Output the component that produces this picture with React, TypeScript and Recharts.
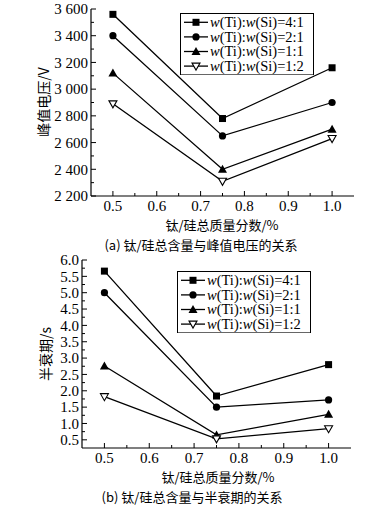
import React from 'react';
import { LineChart, Line, XAxis, YAxis, Legend } from 'recharts';

// x: total Ti/Si mass fraction (%)
const massFraction = [0.5, 0.75, 1.0];
const ratioNames = ['4:1', '2:1', '1:1', '1:2'];

// (a) peak voltage, V
const peakVoltage41 = [3560, 2780, 3160];
const peakVoltage21 = [3400, 2650, 2900];
const peakVoltage11 = [3120, 2400, 2700];
const peakVoltage12 = [2890, 2310, 2630];

// (b) half-life, s
const halfLife41 = [5.66, 1.84, 2.8];
const halfLife21 = [5.0, 1.5, 1.72];
const halfLife11 = [2.76, 0.65, 1.28];
const halfLife12 = [1.82, 0.53, 0.84];

const xMajor = [0.5, 0.6, 0.7, 0.8, 0.9, 1.0];
const xMinor = [0.55, 0.65, 0.75, 0.85, 0.95];
const voltMajor = [2200, 2400, 2600, 2800, 3000, 3200, 3400, 3600];
const voltMinor = [2300, 2500, 2700, 2900, 3100, 3300, 3500];
const halfMajor = [0.5, 1.0, 1.5, 2.0, 2.5, 3.0, 3.5, 4.0, 4.5, 5.0, 5.5, 6.0];
const halfMinor = [0.75, 1.25, 1.75, 2.25, 2.75, 3.25, 3.75, 4.25, 4.75, 5.25, 5.75];

const shapes = ['square', 'circle', 'triangle', 'triangleDown'];
const SERIF = '"Liberation Serif", "Times New Roman", serif';
const CJK = '"Noto Sans CJK SC", sans-serif';

const buildRows = (series: number[][]) =>
  massFraction.map((x, i) => {
    const row: Record<string, number> = { x };
    series.forEach((s, k) => (row['s' + k] = s[i]));
    return row;
  });

const voltData = buildRows([peakVoltage41, peakVoltage21, peakVoltage11, peakVoltage12]);
const halfData = buildRows([halfLife41, halfLife21, halfLife11, halfLife12]);

const Marker = ({ cx, cy, shape }: { cx: number; cy: number; shape: string }) => {
  if (shape === 'square') return <rect x={cx - 3.5} y={cy - 3.5} width={7} height={7} fill="#000" />;
  if (shape === 'circle') return <circle cx={cx} cy={cy} r={3.6} fill="#000" />;
  if (shape === 'triangle')
    return <polygon points={`${cx},${cy - 4.5} ${cx - 4.5},${cy + 3.5} ${cx + 4.5},${cy + 3.5}`} fill="#000" />;
  return (
    <polygon
      points={`${cx - 4},${cy - 3} ${cx + 4},${cy - 3} ${cx},${cy + 4}`}
      fill="#fff"
      stroke="#000"
      strokeWidth={1.1}
    />
  );
};

const makeYTick = (major: number[], fmt: (v: number) => string) => (props: any) => {
  const { x, y, payload } = props;
  const isMajor = major.includes(payload.value);
  return (
    <g>
      <line x1={x + 3} x2={x + (isMajor ? 8 : 6)} y1={y} y2={y} stroke="#000" strokeWidth={1} />
      {isMajor && (
        <text x={x} y={y} dy="0.35em" textAnchor="end" fontFamily={SERIF} fontSize={15} fill="#000">
          {fmt(payload.value)}
        </text>
      )}
    </g>
  );
};

const XTick = (props: any) => {
  const { x, y, payload } = props;
  const isMajor = xMajor.includes(payload.value);
  return (
    <g>
      <line x1={x} x2={x} y1={y - 4} y2={y - (isMajor ? 9 : 7)} stroke="#000" strokeWidth={1} />
      {isMajor && (
        <text x={x} y={y} dy="0.71em" textAnchor="middle" fontFamily={SERIF} fontSize={15} fill="#000">
          {payload.value.toFixed(1)}
        </text>
      )}
    </g>
  );
};

// legend drawn in svg so rows can sit as tight as in the print
const LegendBox = () => {
  const rowH = 14.6;
  const w = 134;
  const h = rowH * ratioNames.length + 4;
  return (
    <svg width={w} height={h} style={{ display: 'block' }}>
      <rect x={0.5} y={0.5} width={w - 1} height={h - 1} fill="#fff" stroke="#000" strokeWidth={1} />
      {ratioNames.map((r, k) => {
        const cy = 2 + rowH * k + rowH / 2;
        return (
          <g key={r}>
            <line x1={4} x2={28} y1={cy} y2={cy} stroke="#000" strokeWidth={1.3} />
            <Marker cx={16} cy={cy} shape={shapes[k]} />
            <text x={30} y={cy} dy="0.34em" fontFamily={SERIF} fontSize={14.5} fill="#000">
              <tspan fontStyle="italic">w</tspan>(Ti):<tspan fontStyle="italic">w</tspan>(Si)={r}
            </text>
          </g>
        );
      })}
    </svg>
  );
};

const boxAxes = (domainY: number[]) => [
  <XAxis key="top" xAxisId="top" orientation="top" type="number" dataKey="x" domain={[0.45, 1.05]} height={0}
    tick={false} tickLine={false} axisLine={{ stroke: '#000', strokeWidth: 1.2 }} />,
  <YAxis key="right" yAxisId="right" orientation="right" type="number" domain={domainY} width={0}
    tick={false} tickLine={false} axisLine={{ stroke: '#000', strokeWidth: 1.2 }} />,
];

const seriesLines = () =>
  shapes.map((shape, k) => (
    <Line
      key={shape}
      dataKey={'s' + k}
      type="linear"
      stroke="#000"
      strokeWidth={1.3}
      isAnimationActive={false}
      dot={(p: any) => <Marker key={k + '-' + p.index} cx={p.cx} cy={p.cy} shape={shape} />}
      activeDot={false}
    />
  ));

const fmtVolt = (v: number) => `${Math.floor(v / 1000)} ${String(v % 1000).padStart(3, '0')}`;

const abs = (left: number, top: number, extra: React.CSSProperties = {}): React.CSSProperties => ({
  position: 'absolute',
  left,
  top,
  transform: 'translate(-50%, -50%)',
  whiteSpace: 'nowrap',
  fontFamily: CJK,
  fontSize: 13,
  lineHeight: '15px',
  color: '#000',
  ...extra,
});

export default function App() {
  return (
    <div style={{ position: 'absolute', left: 0, top: 0, width: 371, height: 508, background: '#fff', overflow: 'hidden' }}>
      <div style={{ position: 'absolute', left: 0, top: 0 }}>
        <LineChart width={371} height={215} data={voltData} margin={{ top: 9, right: 17, left: 0, bottom: 0 }}>
          <XAxis type="number" dataKey="x" domain={[0.45, 1.05]} ticks={[...xMajor, ...xMinor].sort()} interval={0}
            height={19} tickSize={0} tickMargin={4} tick={XTick} axisLine={{ stroke: '#000', strokeWidth: 1.2 }} />
          <YAxis type="number" domain={[2200, 3600]} ticks={[...voltMajor, ...voltMinor].sort()} interval={0}
            width={91} tickSize={0} tickMargin={3} tick={makeYTick(voltMajor, fmtVolt)}
            axisLine={{ stroke: '#000', strokeWidth: 1.2 }} />
          {boxAxes([2200, 3600])}
          <Legend layout="vertical" align="center" verticalAlign="middle" content={<LegendBox />}
            wrapperStyle={{ position: 'absolute', left: 180, top: 13, width: 'auto' }} />
          {seriesLines()}
        </LineChart>
      </div>
      <div style={abs(43, 102, { fontSize: 14, transform: 'translate(-50%, -50%) rotate(-90deg)' })}>峰值电压/V</div>
      <div style={abs(222, 224)}>钛/硅总质量分数/%</div>
      <div style={abs(201, 244)}>(a) 钛/硅总含量与峰值电压的关系</div>

      <div style={{ position: 'absolute', left: 0, top: 250 }}>
        <LineChart width={371} height={217} data={halfData} margin={{ top: 10, right: 20, left: 0, bottom: 0 }}>
          <XAxis type="number" dataKey="x" domain={[0.45, 1.05]} ticks={[...xMajor, ...xMinor].sort()} interval={0}
            height={19} tickSize={0} tickMargin={4} tick={XTick} axisLine={{ stroke: '#000', strokeWidth: 1.2 }} />
          <YAxis type="number" domain={[0.25, 6.0]} ticks={[...halfMajor, ...halfMinor].sort((a, b) => a - b)} interval={0}
            width={82} tickSize={0} tickMargin={3} tick={makeYTick(halfMajor, (v) => v.toFixed(1))}
            axisLine={{ stroke: '#000', strokeWidth: 1.2 }} />
          {boxAxes([0.25, 6.0])}
          <Legend layout="vertical" align="center" verticalAlign="middle" content={<LegendBox />}
            wrapperStyle={{ position: 'absolute', left: 177, top: 21, width: 'auto' }} />
          {seriesLines()}
        </LineChart>
      </div>
      <div style={abs(45, 354, { fontSize: 14, transform: 'translate(-50%, -50%) rotate(-90deg)' })}>半衰期/s</div>
      <div style={abs(218, 476)}>钛/硅总质量分数/%</div>
      <div style={abs(192, 496)}>(b) 钛/硅总含量与半衰期的关系</div>
    </div>
  );
}
